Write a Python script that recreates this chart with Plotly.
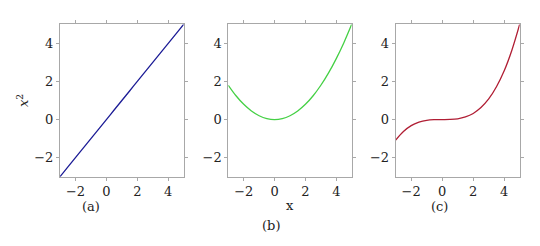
import plotly.graph_objects as go

# Data
x_vals = [-3, -2.5, -2, -1.5, -1, -0.5, 0, 0.5, 1, 1.5, 2, 2.5, 3, 3.5, 4, 4.5, 5]
y_linear = [-3, -2.5, -2, -1.5, -1, -0.5, 0, 0.5, 1, 1.5, 2, 2.5, 3, 3.5, 4, 4.5, 5]
y_quad = [1.8, 1.25, 0.8, 0.45, 0.2, 0.05, 0, 0.05, 0.2, 0.45, 0.8, 1.25, 1.8, 2.45, 3.2, 4.05, 5]
y_cubic = [-1.08, -0.63, -0.32, -0.14, -0.04, -0.005, 0, 0.005, 0.04, 0.14, 0.32, 0.63, 1.08, 1.72, 2.56, 3.65, 5]
x_ticks = [-2, 0, 2, 4]
y_ticks = [-2, 0, 2, 4]
x_range = [-3, 5]
y_range = [-3, 5]
panel_labels = ["(a)", "(b)", "(c)"]
colors = ["#1c1c96", "#45d045", "#b01e34"]

W, H = 540, 246
font = "DejaVu Serif"
xdoms = [(60, 183.7), (228.3, 351.7), (395.7, 519.7)]
ytop, ybot = 24.3, 176.7

fig = go.Figure()
series = [y_linear, y_quad, y_cubic]
for i, ys in enumerate(series):
    sfx = "" if i == 0 else str(i + 1)
    fig.add_trace(go.Scatter(x=x_vals, y=ys, mode="lines", line=dict(color=colors[i], width=1.3, shape="spline"),
                             xaxis="x" + sfx, yaxis="y" + sfx, showlegend=False, hoverinfo="skip"))
    axcommon = dict(showgrid=False, zeroline=False, showline=True, linecolor="#a8a8a8", linewidth=1,
                    mirror="ticks", ticks="outside", ticklen=3, tickcolor="#a8a8a8", tickwidth=1,
                    tickfont=dict(family=font, size=13, color="#222"))
    fig.layout["xaxis" + sfx] = dict(axcommon, domain=[xdoms[i][0] / W, xdoms[i][1] / W], range=x_range,
                                     tickvals=x_ticks, anchor="y" + sfx)
    fig.layout["yaxis" + sfx] = dict(axcommon, domain=[1 - ybot / H, 1 - ytop / H], range=y_range,
                                     tickvals=y_ticks, anchor="x" + sfx)

ann_font = dict(family=font, size=13, color="#222")
label_pos = [(90.7, 206), (271, 225), (439, 206)]
for lab, (px, py) in zip(panel_labels, label_pos):
    fig.add_annotation(text=lab, x=px / W, y=1 - py / H, xref="paper", yref="paper", showarrow=False,
                       font=ann_font, xanchor="center", yanchor="middle")
fig.add_annotation(text="x", x=289.5 / W, y=1 - 205.5 / H, xref="paper", yref="paper", showarrow=False,
                   font=ann_font, xanchor="center", yanchor="middle")
fig.add_annotation(text="<i>x</i><sup>2</sup>", x=23 / W, y=1 - 101 / H, xref="paper", yref="paper",
                   showarrow=False, font=ann_font, textangle=-90, xanchor="center", yanchor="middle")

fig.update_layout(width=W, height=H, margin=dict(l=0, r=0, t=0, b=0), plot_bgcolor="white",
                  paper_bgcolor="white", font=dict(family=font, size=13, color="#222"))
fig.write_html("out.html")
